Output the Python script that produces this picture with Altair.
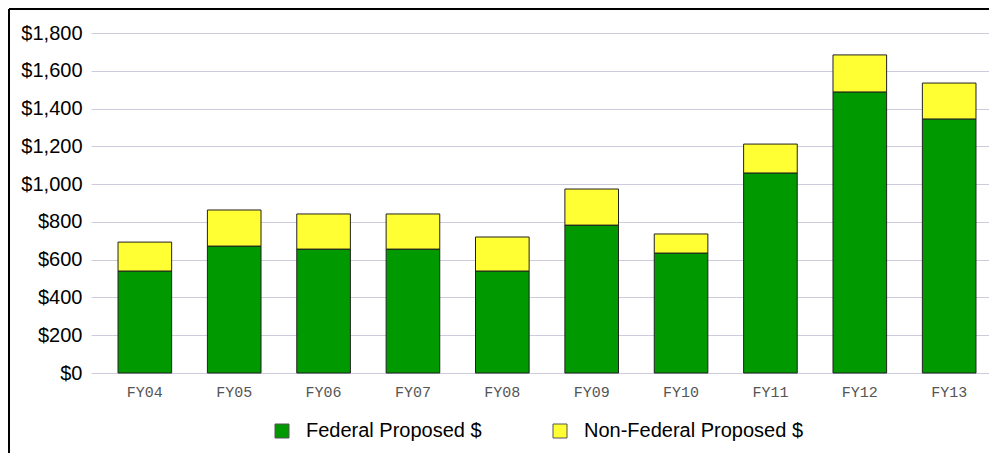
import altair as alt
import pandas as pd

years = ["FY04", "FY05", "FY06", "FY07", "FY08", "FY09", "FY10", "FY11", "FY12", "FY13"]
federal = [540, 672, 656, 656, 540, 783, 635, 1059, 1488, 1345]
non_federal = [153, 191, 186, 186, 180, 191, 101, 153, 196, 190]
series = ["Federal Proposed $", "Non-Federal Proposed $"]
colors = ["#009900", "#ffff33"]
y_ticks = [0, 200, 400, 600, 800, 1000, 1200, 1400, 1600, 1800]

rows = []
for yr, f, n in zip(years, federal, non_federal):
    rows.append({"year": yr, "series": series[0], "value": f, "ord": 0})
    rows.append({"year": yr, "series": series[1], "value": n, "ord": 1})
df = pd.DataFrame(rows)

W, H = 898, 340

bars = alt.Chart(df).mark_bar(stroke="#222222", strokeWidth=1).encode(
    x=alt.X(
        "year:N", sort=years,
        scale=alt.Scale(paddingInner=0.4, paddingOuter=0.224, align=0.675),
        axis=alt.Axis(title=None, labelAngle=0, ticks=False, domain=False,
                      labelFont="Liberation Mono", labelFontSize=15,
                      labelColor="#555555", labelPadding=11, grid=False),
    ),
    y=alt.Y(
        "value:Q", stack="zero",
        scale=alt.Scale(domain=[0, 1800]),
        axis=alt.Axis(title=None, values=y_ticks, format="$,.0f", ticks=False,
                      domain=False, labelFont="Liberation Sans", labelFontSize=20,
                      labelColor="#000000", labelPadding=9,
                      gridColor="#ccccdd", gridWidth=1),
    ),
    color=alt.Color(
        "series:N",
        scale=alt.Scale(domain=series, range=colors),
        legend=alt.Legend(title=None, orient="none", legendX=181, legendY=388,
                          direction="horizontal",
                          symbolType="square", symbolSize=196,
                          symbolStrokeColor="#555555", symbolStrokeWidth=1,
                          labelFont="Liberation Sans", labelFontSize=20,
                          labelColor="#000000", labelOffset=14, labelLimit=0,
                          columnPadding=68),
    ),
    order=alt.Order("ord:Q", sort="ascending"),
)

frame_df = pd.DataFrame({"a": [0]})
top_line = alt.Chart(frame_df).mark_rule(color="#000000", strokeWidth=2).encode(
    x=alt.value(-82), x2=alt.value(W), y=alt.value(-24)
)
left_line = alt.Chart(frame_df).mark_rule(color="#000000", strokeWidth=2).encode(
    x=alt.value(-82), y=alt.value(-24), y2=alt.value(H + 80)
)

chart = alt.layer(bars, top_line, left_line).properties(
    width=W, height=H,
    autosize=alt.AutoSizeParams(type="none"),
    padding={"left": 83, "top": 25, "right": 0, "bottom": 80},
).configure_view(stroke=None)

chart.save("out.html", embed_options={"renderer": "svg", "actions": False})
